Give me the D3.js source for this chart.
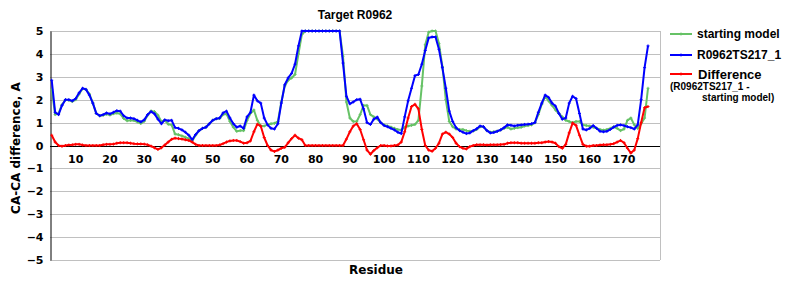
<!DOCTYPE html>
<html>
<head>
<meta charset="utf-8">
<script src="https://cdn.jsdelivr.net/npm/d3@7"></script>
<style>
  body { margin: 0; background: #fff; }
  svg { display: block; }
</style>
</head>
<body>
<div id="chart"></div>
<script>
// residues 3..177
const residues = d3.range(3, 178);

const startingModel = [
  2.45, 1.35, 1.4, 1.78, 2.0, 1.98, 1.92, 2.0, 2.25, 2.48,
  2.45, 2.25, 1.85, 1.4, 1.3, 1.32, 1.37, 1.33, 1.39, 1.42,
  1.38, 1.18, 1.08, 1.1, 1.09, 1.03, 0.96, 1.06, 1.32, 1.51,
  1.48, 1.32, 1.05, 1.1, 0.93, 0.9, 0.5, 0.47, 0.42, 0.36,
  0.3, 0.2, 0.45, 0.65, 0.75, 0.8, 0.95, 1.1, 1.17, 1.18,
  1.35, 1.38, 1.05, 0.8, 0.62, 0.65, 0.65, 1.1, 1.4, 1.55,
  1.1, 0.85, 0.85, 0.92, 0.95, 0.97, 1.05, 1.9, 2.6, 2.85,
  2.95, 3.1, 4.0, 4.85, 5, 5, 5, 5, 5, 5,
  5, 5, 5, 5, 5, 3.9, 1.9, 1.2, 1.05, 1.05,
  1.35, 1.75, 1.75, 1.35, 1.25, 1.15, 1.0, 0.9, 0.85, 0.8,
  0.75, 0.7, 0.68, 0.8, 0.85, 0.88, 0.92, 1.1, 2.6, 4.4,
  4.95, 5, 5, 4.45, 3.45, 2.0, 1.05, 0.82, 0.72, 0.7,
  0.7, 0.65, 0.62, 0.63, 0.7, 0.82, 0.82, 0.65, 0.58, 0.6,
  0.62, 0.68, 0.75, 0.8, 0.72, 0.75, 0.78, 0.8, 0.85, 0.87,
  0.9, 1.0, 1.35, 1.8, 2.15, 1.95, 1.75, 1.55, 1.4, 1.25,
  1.1, 1.05, 1.0, 1.05, 1.05, 0.9, 0.87, 0.85, 0.8, 0.75,
  0.7, 0.67, 0.7, 0.75, 0.82, 0.75, 0.65, 0.72, 1.1, 1.2,
  0.9, 0.75, 0.95, 1.2, 2.5
];

const model = [
  2.85, 1.45, 1.35, 1.75, 2.0, 2.0, 1.95, 2.05, 2.3, 2.5,
  2.45, 2.2, 1.85, 1.4, 1.3, 1.35, 1.42, 1.38, 1.45, 1.52,
  1.5, 1.3, 1.2, 1.2, 1.17, 1.1, 1.03, 1.12, 1.35, 1.48,
  1.38, 1.15, 0.95, 1.12, 1.08, 1.1, 0.78, 0.75, 0.68, 0.58,
  0.45, 0.25, 0.48, 0.65, 0.75, 0.8, 0.95, 1.1, 1.17, 1.2,
  1.42, 1.5, 1.2, 0.95, 0.8, 0.85, 0.75, 1.25, 1.45, 2.2,
  1.95, 1.85, 1.2, 0.9, 0.75, 0.72, 0.95, 1.85, 2.65, 2.95,
  3.15, 3.55, 4.35, 5, 5, 5, 5, 5, 5, 5,
  5, 5, 5, 5, 5, 3.6, 2.15, 1.82, 1.9, 2.0,
  2.02, 1.6, 1.0, 0.92, 1.15, 1.24, 1.0, 0.87, 0.82, 0.75,
  0.68, 0.58, 0.52, 1.25, 1.95, 2.5, 3.05, 3.1, 3.55, 4.15,
  4.7, 4.74, 4.74, 4.2, 3.4, 2.5, 1.5, 1.05, 0.78, 0.65,
  0.58, 0.52, 0.55, 0.65, 0.73, 0.85, 0.82, 0.65, 0.55, 0.57,
  0.62, 0.68, 0.78, 0.9, 0.88, 0.85, 0.88, 0.9, 0.92, 0.93,
  0.95, 1.0, 1.45, 1.85, 2.2, 2.1, 1.85, 1.72, 1.4, 1.15,
  1.2, 1.85, 2.15, 2.05, 1.4, 0.72, 0.68, 0.75, 0.87, 0.75,
  0.62, 0.6, 0.62, 0.7, 0.8, 0.88, 0.9, 0.87, 0.82, 0.78,
  0.72, 0.9, 2.0, 3.4, 4.35
];

const difference = [
  0.45, 0.15, 0.0, -0.03, 0.0, 0.02, 0.03, 0.05, 0.05, 0.02,
  0, 0, 0, 0, 0, 0.03, 0.05, 0.05, 0.06, 0.1,
  0.12, 0.12, 0.12, 0.1, 0.08, 0.07, 0.07, 0.06, 0.03, -0.03,
  -0.1, -0.17, -0.1, 0.02, 0.15, 0.27, 0.32, 0.3, 0.28, 0.25,
  0.22, 0.15, 0.05, 0, 0, 0, 0, 0, 0, 0.02,
  0.08, 0.15, 0.2, 0.22, 0.22, 0.17, 0.1, 0.12, 0.2, 0.6,
  0.93, 0.85, 0.35, 0.0, -0.2, -0.26, -0.2, -0.12, -0.08, 0.12,
  0.3, 0.45, 0.32, 0.25, 0, 0, 0, 0, 0, 0,
  0, 0, 0, 0, 0, 0, 0.28, 0.6, 0.85, 0.95,
  0.7, 0.25, -0.2, -0.38, -0.22, -0.1, 0, 0, -0.02, -0.02,
  0, 0.02, 0.15, 0.6, 1.2, 1.7, 1.8, 1.6, 0.7, 0.0,
  -0.2, -0.25, -0.12, 0.1, 0.5, 0.58, 0.5, 0.35, 0.1, -0.05,
  -0.12, -0.15, -0.05, 0, 0.03, 0.03, 0.03, 0.02, 0.03, 0.03,
  0.03, 0.04, 0.05, 0.1, 0.12, 0.12, 0.12, 0.1, 0.1, 0.1,
  0.1, 0.1, 0.12, 0.12, 0.15, 0.17, 0.15, 0.1, -0.05, -0.12,
  0.05, 0.55, 0.98, 0.88, 0.45, 0.05, -0.03, -0.03, 0, 0,
  0.02, 0.03, 0.03, 0.05, 0.08, 0.15, 0.22, 0.12, -0.12, -0.33,
  -0.2, 0.3, 1.0, 1.65, 1.7
];

const xTicks = d3.range(10, 180, 10);
const yTicks = d3.range(-5, 6, 1);

const series = [
  { name: "starting model", color: "#66c266", values: startingModel },
  { name: "R0962TS217_1", color: "#0000ff", values: model },
  { name: "Difference", color: "#ff0000", values: difference }
];

const width = 800, height = 300;
const margin = { top: 31, right: 140, bottom: 40, left: 50 };

const svg = d3.select("#chart").append("svg")
  .attr("width", width)
  .attr("height", height);

const x = d3.scaleLinear()
  .domain([2.5, 180.5])
  .range([margin.left, width - margin.right]);

const y = d3.scaleLinear()
  .domain([-5, 5])
  .range([height - margin.bottom, margin.top]);

const boldSans = "'Liberation Sans', Arial, sans-serif";
const tickFont = "'DejaVu Sans', Verdana, sans-serif";

// grid lines
svg.append("g")
  .selectAll("line")
  .data(yTicks.filter(d => d !== 0))
  .join("line")
  .attr("x1", margin.left)
  .attr("x2", width - margin.right)
  .attr("y1", d => Math.round(y(d)) + 0.5)
  .attr("y2", d => Math.round(y(d)) + 0.5)
  .attr("stroke", "#c0c0c0");

// right frame
svg.append("line")
  .attr("x1", width - margin.right + 0.5)
  .attr("x2", width - margin.right + 0.5)
  .attr("y1", y(5))
  .attr("y2", y(-5))
  .attr("stroke", "#c0c0c0");

// zero line
svg.append("line")
  .attr("x1", margin.left)
  .attr("x2", width - margin.right)
  .attr("y1", Math.round(y(0)) + 0.5)
  .attr("y2", Math.round(y(0)) + 0.5)
  .attr("stroke", "#000");

// y axis
const yAxis = svg.append("g")
  .attr("transform", `translate(${margin.left + 0.5},0)`)
  .call(d3.axisLeft(y).tickValues(yTicks).tickSize(0).tickPadding(7));
yAxis.select(".domain").attr("stroke", "#000");
yAxis.selectAll("text")
  .style("font-family", tickFont)
  .style("font-weight", "bold")
  .style("font-size", "11px")
  .attr("fill", "#000");

// x tick labels sit under the zero line
svg.append("g")
  .selectAll("text")
  .data(xTicks)
  .join("text")
  .attr("x", d => x(d))
  .attr("y", y(0) + 17)
  .attr("text-anchor", "middle")
  .style("font-family", tickFont)
  .style("font-weight", "bold")
  .style("font-size", "11px")
  .text(d => d);

const line = d3.line()
  .x((d, i) => x(residues[i]))
  .y(d => y(Math.min(d, 5)));

const marker = "M-1.5,0H1.5M0,-1.5V1.5";

series.forEach(s => {
  svg.append("path")
    .datum(s.values)
    .attr("fill", "none")
    .attr("stroke", s.color)
    .attr("stroke-width", 2)
    .attr("stroke-linejoin", "round")
    .attr("d", line);

  svg.append("g")
    .selectAll("path")
    .data(s.values)
    .join("path")
    .attr("transform", (d, i) => `translate(${x(residues[i])},${y(Math.min(d, 5))})`)
    .attr("d", marker)
    .attr("stroke", s.color)
    .attr("stroke-width", 1);
});

// title
svg.append("text")
  .attr("x", (x.range()[0] + x.range()[1]) / 2)
  .attr("y", 19)
  .attr("text-anchor", "middle")
  .style("font-family", boldSans)
  .style("font-weight", "bold")
  .style("font-size", "12px")
  .text("Target R0962");

// axis titles
svg.append("text")
  .attr("transform", "translate(19.5,148) rotate(-90)")
  .attr("text-anchor", "middle")
  .style("font-family", tickFont)
  .style("font-weight", "bold")
  .style("font-size", "12px")
  .text("CA-CA difference, A");

svg.append("text")
  .attr("x", 376)
  .attr("y", 274)
  .attr("text-anchor", "middle")
  .style("font-family", tickFont)
  .style("font-weight", "bold")
  .style("font-size", "12px")
  .text("Residue");

// legend
const legendY = [34, 55, 74];
const legend = svg.append("g");
series.forEach((s, i) => {
  legend.append("line")
    .attr("x1", 670).attr("x2", 692)
    .attr("y1", legendY[i]).attr("y2", legendY[i])
    .attr("stroke", s.color)
    .attr("stroke-width", 2);
  legend.append("path")
    .attr("transform", `translate(681,${legendY[i]})`)
    .attr("d", marker)
    .attr("stroke", s.color);
});

legend.append("text")
  .attr("x", 697).attr("y", 38)
  .style("font-family", boldSans).style("font-weight", "bold").style("font-size", "12px")
  .text("starting model");
legend.append("text")
  .attr("x", 697).attr("y", 59)
  .style("font-family", boldSans).style("font-weight", "bold").style("font-size", "12px")
  .text("R0962TS217_1");
legend.append("text")
  .attr("x", 698).attr("y", 79)
  .style("font-family", boldSans).style("font-weight", "bold").style("font-size", "13px")
  .text("Difference");
legend.append("text")
  .attr("x", 670).attr("y", 90)
  .style("font-family", boldSans).style("font-weight", "bold").style("font-size", "10px")
  .text("(R0962TS217_1 -");
legend.append("text")
  .attr("x", 702).attr("y", 101)
  .style("font-family", boldSans).style("font-weight", "bold").style("font-size", "10px")
  .text("starting model)");
</script>
</body>
</html>
